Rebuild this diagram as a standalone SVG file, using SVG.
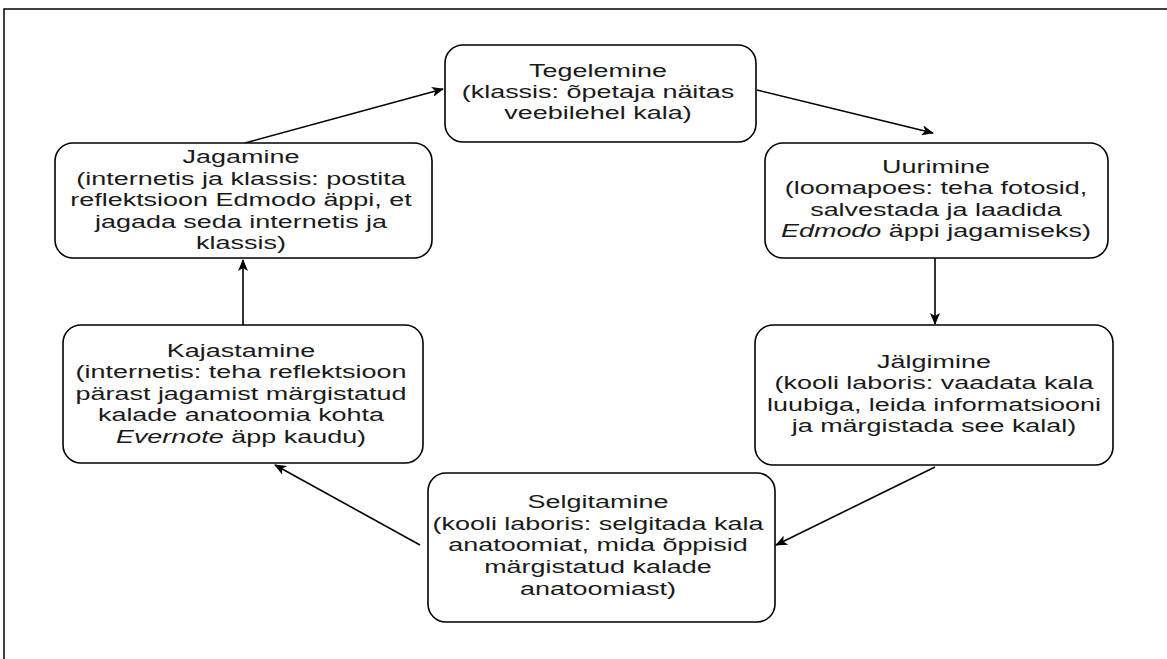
<svg xmlns="http://www.w3.org/2000/svg" width="1167" height="659" viewBox="0 0 1167 659">
<defs>
<style>
.box{fill:#fff;stroke:#000;stroke-width:1.6}
.lbl{font-family:"Liberation Sans",Arial,sans-serif;font-size:17.5px;fill:#1a1a1a;text-anchor:middle}
.conn{stroke:#000;stroke-width:1.6;fill:none;marker-end:url(#ah)}
.frame{stroke:#000;stroke-width:1.5;fill:none}
</style>
<marker id="ah" viewBox="0 0 12 10" refX="11" refY="5" markerWidth="12" markerHeight="10" markerUnits="userSpaceOnUse" orient="auto">
<path d="M0,0 L12,5 L0,10 L3,5 z" fill="#000"/>
</marker>
</defs>
<rect width="1167" height="659" fill="#fff"/>
<path class="frame" d="M4,659 L4,9 L1167,9"/>

<g id="connectors">
<line class="conn" x1="245" y1="143" x2="443" y2="89"/>
<line class="conn" x1="757" y1="90" x2="933" y2="133"/>
<line class="conn" x1="935" y1="258" x2="935" y2="324"/>
<line class="conn" x1="935" y1="467" x2="776" y2="545"/>
<line class="conn" x1="420" y1="545" x2="275" y2="465"/>
<line class="conn" x1="243" y1="325" x2="243" y2="260"/>
</g>

<g id="tegelemine">
<rect class="box" x="445" y="45" width="311" height="97" rx="18"/>
<text class="lbl" transform="translate(598,77) scale(1.54,1)"><tspan x="0" dy="0">Tegelemine</tspan><tspan x="0" dy="21">(klassis: õpetaja näitas</tspan><tspan x="0" dy="21">veebilehel kala)</tspan></text>
</g>

<g id="uurimine">
<rect class="box" x="765" y="143" width="343" height="115" rx="18"/>
<text class="lbl" transform="translate(936,173) scale(1.54,1)"><tspan x="0" dy="0">Uurimine</tspan><tspan x="0" dy="21.3">(loomapoes: teha fotosid,</tspan><tspan x="0" dy="21.3">salvestada ja laadida</tspan><tspan x="0" dy="21.3"><tspan font-style="italic">Edmodo</tspan> äppi jagamiseks)</tspan></text>
</g>

<g id="jalgimine">
<rect class="box" x="755" y="325" width="358" height="140" rx="18"/>
<text class="lbl" transform="translate(934,368) scale(1.54,1)"><tspan x="0" dy="0">Jälgimine</tspan><tspan x="0" dy="21.3">(kooli laboris: vaadata kala</tspan><tspan x="0" dy="21.3">luubiga, leida informatsiooni</tspan><tspan x="0" dy="21.3">ja märgistada see kalal)</tspan></text>
</g>

<g id="selgitamine">
<rect class="box" x="428" y="473" width="347" height="149" rx="18"/>
<text class="lbl" transform="translate(598,508) scale(1.54,1)"><tspan x="0" dy="0">Selgitamine</tspan><tspan x="0" dy="21.7">(kooli laboris: selgitada kala</tspan><tspan x="0" dy="21.7">anatoomiat, mida õppisid</tspan><tspan x="0" dy="21.7">märgistatud kalade</tspan><tspan x="0" dy="21.7">anatoomiast)</tspan></text>
</g>

<g id="kajastamine">
<rect class="box" x="63" y="325" width="360" height="138" rx="18"/>
<text class="lbl" transform="translate(241,357) scale(1.54,1)"><tspan x="0" dy="0">Kajastamine</tspan><tspan x="0" dy="21.5">(internetis: teha reflektsioon</tspan><tspan x="0" dy="21.5">pärast jagamist märgistatud</tspan><tspan x="0" dy="21.5">kalade anatoomia kohta</tspan><tspan x="0" dy="21.5"><tspan font-style="italic">Evernote</tspan> äpp kaudu)</tspan></text>
</g>

<g id="jagamine">
<rect class="box" x="55" y="143" width="377" height="115" rx="18"/>
<text class="lbl" transform="translate(241,163) scale(1.54,1)"><tspan x="0" dy="0">Jagamine</tspan><tspan x="0" dy="21.6">(internetis ja klassis: postita</tspan><tspan x="0" dy="21.6">reflektsioon Edmodo äppi, et</tspan><tspan x="0" dy="21.6">jagada seda internetis ja</tspan><tspan x="0" dy="21.6">klassis)</tspan></text>
</g>
</svg>
